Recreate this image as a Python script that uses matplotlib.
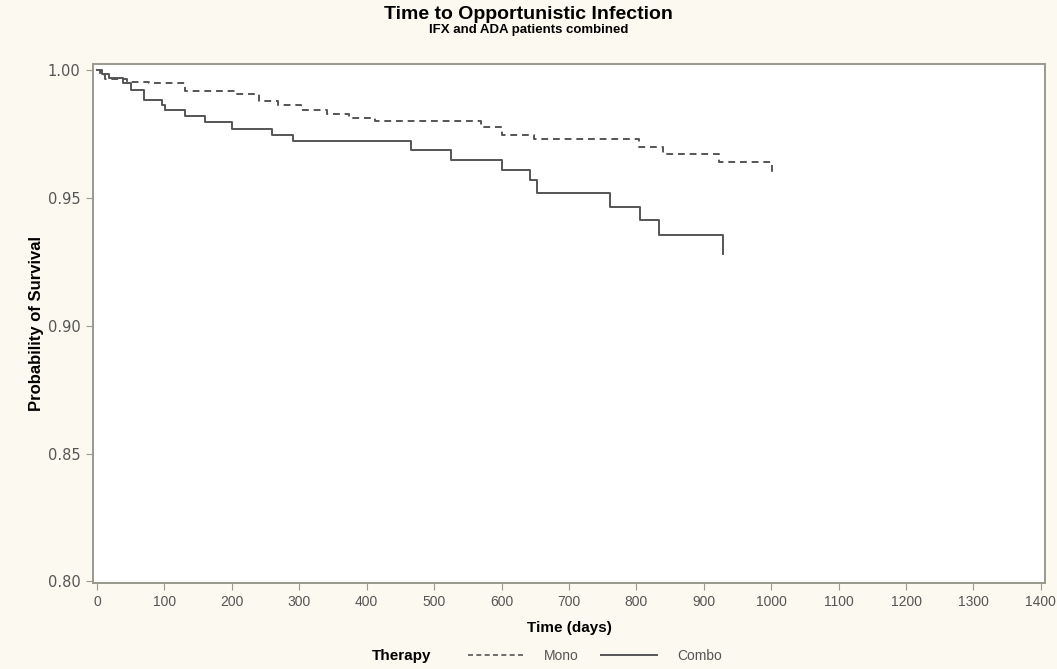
import matplotlib
matplotlib.use('Agg')
from matplotlib import pyplot as plt
from matplotlib.lines import Line2D

# Kaplan-Meier step estimates (event time in days, survival after the event)
mono_days = [0, 5, 12, 45, 77, 130, 208, 240, 268, 303, 341, 374, 413, 569, 601, 648, 804, 839, 922, 1001]
mono_surv = [1.0, 0.998, 0.9966, 0.9955, 0.9949, 0.992, 0.9909, 0.9879, 0.9864, 0.9844, 0.983, 0.9815,
             0.9802, 0.9778, 0.9748, 0.973, 0.970, 0.9673, 0.964, 0.960]

combo_days = [0, 8, 18, 39, 51, 69, 96, 101, 131, 160, 200, 259, 290, 465, 525, 600, 642, 653, 761, 805, 833, 929]
combo_surv = [1.0, 0.9985, 0.997, 0.9949, 0.9923, 0.9883, 0.9864, 0.9844, 0.9822, 0.9798, 0.9772, 0.9746,
              0.9722, 0.969, 0.9651, 0.9612, 0.9572, 0.9522, 0.9467, 0.9413, 0.9354, 0.928]

x_ticks = list(range(0, 1401, 100))
y_ticks = [0.80, 0.85, 0.90, 0.95, 1.00]

line_col = '#555555'
frame_col = '#9a9a8c'
sans = ['Liberation Sans Narrow', 'Liberation Sans', 'DejaVu Sans']

fig = plt.figure(figsize=(10.57, 6.69), dpi=100, facecolor='#fcf9f0')
ax = fig.add_axes([0.088, 0.129, 0.9006, 0.775])
ax.set_facecolor('white')

ax.step(mono_days, mono_surv, where='post', color=line_col, lw=1.4, linestyle=(0, (3.5, 2.5)))
ax.step(combo_days, combo_surv, where='post', color=line_col, lw=1.4)

ax.set_xlim(-6, 1406)
ax.set_ylim(0.7995, 1.0024)
ax.set_xticks(x_ticks)
ax.set_yticks(y_ticks)
ax.set_yticklabels(['%.2f' % v for v in y_ticks], family='DejaVu Sans')
ax.set_xticklabels([str(v) for v in x_ticks], family=sans)
ax.tick_params(axis='both', direction='out', length=5, color=frame_col, labelcolor='#555555', labelsize=10)
ax.tick_params(axis='y', labelsize=10.5, pad=4)
for sp in ax.spines.values():
    sp.set_color(frame_col)
    sp.set_linewidth(1.4)

ax.set_xlabel('Time (days)', family=sans, fontweight='bold', fontsize=11, labelpad=9)
ax.set_ylabel('Probability of Survival', family=sans, fontweight='bold', fontsize=12, labelpad=3)

fig.text(0.5, 0.979, 'Time to Opportunistic Infection', ha='center', va='center',
         family=sans, fontweight='bold', fontsize=14)
fig.text(0.5, 0.955, 'IFX and ADA patients combined', ha='center', va='center',
         family=sans, fontweight='bold', fontsize=9.5)

# legend row under the x label
fig.text(0.38, 0.020, 'Therapy', ha='center', va='center', family=sans, fontweight='bold', fontsize=11)
handles = [Line2D([], [], color=line_col, lw=1.2, linestyle=(0, (3, 2))),
           Line2D([], [], color=line_col, lw=1.4)]
fig.legend(handles, ['Mono', 'Combo'], loc='center', bbox_to_anchor=(0.563, 0.020), ncol=2,
           frameon=False, handlelength=4, columnspacing=1.6, handletextpad=1.5,
           prop={'family': sans, 'size': 10}, labelcolor='#555555')

fig.savefig('out.png', dpi=100, facecolor=fig.get_facecolor())
